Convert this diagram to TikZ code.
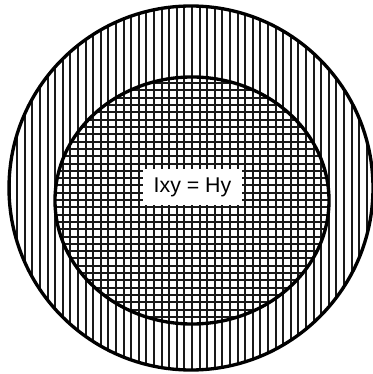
\documentclass[tikz,border=0pt]{standalone}
\usepackage{fontspec}
\setmainfont{Liberation Sans}
\tikzset{
  hatchline/.style={black!90, line width=1.5pt},
  rimline/.style={black, line width=2.5pt},
  labelbox/.style={fill=white, inner sep=0pt, minimum width=74pt, minimum height=27pt,
    font=\fontsize{16}{19}\selectfont}
}
\begin{document}
\begin{tikzpicture}[x=0.75pt, y=-0.75pt]
  \useasboundingbox (0,0) rectangle (373,374);
  \def\dx{7.6}
  \def\dy{7.3}
  % outer disc: vertical lines
  \begin{scope}
    \clip (191,188) circle [x radius=182, y radius=182];
    \foreach \k in {-25,...,25}
      \draw[hatchline] (192+\k*\dx,0) -- (192+\k*\dx,374);
  \end{scope}
  % inner disc: add horizontal lines for the grid
  \begin{scope}
    \clip (192,200.5) circle [x radius=137, y radius=123.5];
    \foreach \k in {-18,...,18}
      \draw[hatchline] (40,200+\k*\dy) -- (345,200+\k*\dy);
  \end{scope}
  \draw[rimline] (191,188) circle [x radius=182, y radius=182];
  \draw[rimline] (192,200.5) circle [x radius=137, y radius=123.5];
  \node[labelbox] (ixy) at (192.5,187) {Ixy = Hy};
\end{tikzpicture}
\end{document}
